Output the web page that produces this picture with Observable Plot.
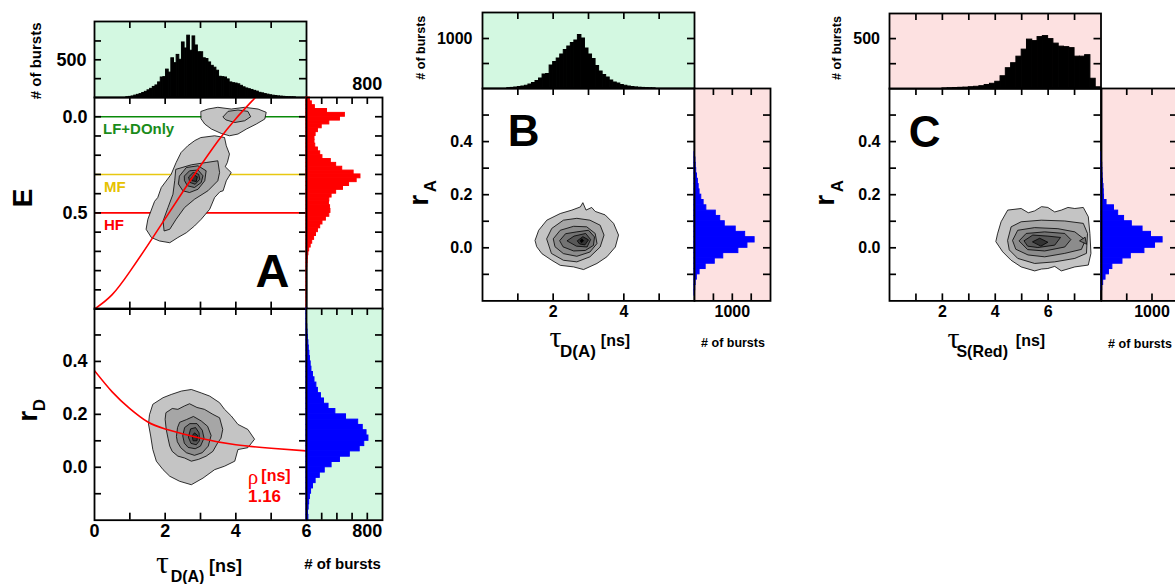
<!DOCTYPE html>
<html><head><meta charset="utf-8">
<script src="https://cdn.jsdelivr.net/npm/d3@7"></script>
<script src="https://cdn.jsdelivr.net/npm/@observablehq/plot@0.6"></script>
<style>
body{margin:0;background:#fff;}
#fig{position:relative;width:1175px;height:584px;overflow:hidden;background:#fff;}
</style></head><body><div id="fig"></div>
<script>
// ---------------- DATA ----------------
// Panel A, top histogram of tau_D(A): bins of 0.075 ns starting at 0.9 ns
const histTauA_start = 0.9, histTauA_width = 0.075;
const histTauA = [3,8,14,25,35,45,60,75,95,115,140,160,200,265,270,370,330,520,455,565,500,730,650,820,620,810,690,600,600,520,510,465,420,395,355,275,270,265,240,200,190,185,175,155,135,120,110,100,88,78,62,55,45,38,30,24,20,15,12,9,6,4,3,2];
// Panel A, right histogram of E: bins of 0.02 starting at -0.10
const histE_start = -0.10, histE_width = 0.02;
const histE = [45,70,110,270,505,440,300,200,150,120,105,105,115,150,180,210,320,390,470,620,710,660,560,480,390,330,300,295,310,315,300,255,210,180,150,125,100,75,55,35,25,18,14,10,8,6,5,4,3,3,2,2,1,1,1];
// Panel A, right histogram of r_D: bins of 0.02 starting at -0.20
const histRD_start = -0.20, histRD_width = 0.02;
const histRD = [25,20,28,35,45,60,85,120,175,240,330,440,570,700,760,815,790,740,680,520,380,290,230,190,150,130,105,85,65,55,45,38,30,25,18,14,10,6,4,2];
// Panel B, top histogram of tau_D(A): bins of 0.1 ns starting at 0.7
const histTauB_start = 0.7, histTauB_width = 0.1;
const histTauB = [6,12,20,30,40,55,80,110,150,200,280,290,460,530,600,680,770,840,910,960,1070,1000,800,680,590,450,340,270,220,160,120,100,70,55,40,30,22,16,12,8,5,3];
// Panel B, right histogram of r_A: bins of 0.02 starting at -0.18
const histRAB_start = -0.18, histRAB_width = 0.02;
const histRAB = [8,18,30,62,134,295,536,760,1160,1400,1590,1340,1090,800,680,563,313,241,179,134,110,89,65,45,32,24,10];
// Panel C, top histogram of tau_S(Red): bins of 0.2 ns starting at 2.0
const histTauC_start = 2.0, histTauC_width = 0.2;
const histTauC = [4,6,8,10,12,16,20,26,38,50,70,125,205,255,320,390,490,475,515,525,495,450,420,415,405,320,320,335,100,15];
// Panel C, right histogram of r_A: bins of 0.02 starting at -0.16
const histRAC_start = -0.16, histRAC_width = 0.02;
const histRAC = [13,33,80,147,215,415,580,850,1060,1210,980,813,600,447,330,247,100,50,45,40,30,22,18,14,10,5];

// State lines in panel A (E values)
const stateNames = ["LF+DOnly", "MF", "HF"];
const stateE = [0.0, 0.3, 0.5];

// Red theory curves
const curveE = [[0,1.0],[0.5,0.925],[1.0,0.805],[1.5,0.67],[2.0,0.53],[2.5,0.39],[3.0,0.255],[3.5,0.125],[4.0,0.01],[4.5,-0.09],[4.7,-0.13]];
const curveRD = [[0,0.365],[0.5,0.285],[1.0,0.222],[1.5,0.172],[2.0,0.145],[3.0,0.11],[4.0,0.085],[5.0,0.072],[6.0,0.062]];
const rhoLabel = ["ρ", "[ns]", "1.16"];

// Contour rings [tau, value] by level (1 = outermost)
const contoursAE = [
 {level:1, pts:[[3.02,0.108],[3.40,0.099],[3.68,0.108],[3.73,0.151],[3.82,0.194],[3.76,0.238],[3.70,0.26],[3.87,0.290],[3.73,0.333],[3.64,0.385],[3.55,0.39],[3.40,0.42],[3.26,0.481],[3.02,0.533],[2.83,0.568],[2.60,0.603],[2.36,0.628],[2.13,0.655],[1.84,0.646],[1.61,0.628],[1.46,0.585],[1.51,0.533],[1.65,0.464],[1.70,0.44],[1.79,0.42],[1.89,0.368],[2.17,0.299],[2.31,0.238],[2.45,0.186],[2.64,0.151],[2.83,0.125]]},
 {level:1, pts:[[3.02,-0.028],[3.21,-0.040],[3.49,-0.049],[3.87,-0.040],[4.25,-0.049],[4.63,-0.040],[4.86,-0.023],[4.82,0.012],[4.58,0.038],[4.30,0.064],[4.06,0.09],[3.82,0.099],[3.59,0.087],[3.31,0.064],[3.12,0.038],[3.02,0.012]]},
 {level:2, pts:[[2.31,0.273],[2.74,0.25],[3.16,0.238],[3.49,0.229],[3.54,0.29],[3.49,0.333],[3.21,0.385],[2.83,0.429],[2.55,0.472],[2.31,0.533],[2.13,0.585],[1.97,0.594],[1.94,0.542],[2.08,0.472],[2.22,0.403],[2.27,0.333]]},
 {level:2, pts:[[3.64,0.0],[3.78,-0.028],[4.06,-0.035],[4.34,-0.028],[4.42,0.0],[4.25,0.021],[3.97,0.03],[3.73,0.017]]},
 {level:3, pts:[[2.41,0.307],[2.60,0.264],[2.93,0.255],[3.16,0.281],[3.12,0.333],[2.93,0.377],[2.69,0.394],[2.50,0.385],[2.38,0.351]]},
 {level:4, pts:[[2.55,0.307],[2.69,0.281],[2.93,0.277],[3.07,0.307],[3.02,0.342],[2.83,0.368],[2.63,0.359],[2.55,0.333]]},
 {level:5, pts:[[2.67,0.312],[2.79,0.29],[2.95,0.299],[2.98,0.325],[2.85,0.351],[2.71,0.342]]},
 {level:6, pts:[[2.74,0.32],[2.81,0.302],[2.91,0.312],[2.88,0.337],[2.77,0.333]]}
];
const contoursAR = [
 {level:1, pts:[[1.56,0.2],[1.65,0.238],[1.94,0.263],[2.17,0.275],[2.46,0.288],[2.74,0.294],[3.02,0.281],[3.26,0.269],[3.54,0.244],[3.68,0.219],[3.87,0.194],[4.06,0.162],[4.34,0.143],[4.53,0.106],[4.34,0.074],[4.06,0.067],[3.97,0.023],[3.68,0.004],[3.40,-0.009],[3.07,-0.041],[2.74,-0.066],[2.41,-0.053],[2.13,-0.034],[1.94,-0.009],[1.75,0.023],[1.65,0.067],[1.59,0.118],[1.53,0.162]]},
 {level:2, pts:[[2.03,0.207],[2.2,0.222],[2.36,0.219],[2.55,0.232],[2.69,0.240],[2.9,0.226],[3.11,0.219],[3.35,0.2],[3.54,0.187],[3.63,0.143],[3.58,0.11],[3.49,0.093],[3.35,0.06],[3.16,0.042],[2.95,0.03],[2.74,0.023],[2.55,0.035],[2.36,0.042],[2.2,0.06],[2.13,0.08],[2.08,0.11],[2.03,0.143],[2.0,0.18]]},
 {level:3, pts:[[2.32,0.118],[2.35,0.15],[2.41,0.17],[2.6,0.18],[2.8,0.192],[3.02,0.175],[3.2,0.155],[3.3,0.12],[3.22,0.08],[3.05,0.055],[2.83,0.045],[2.6,0.055],[2.44,0.074],[2.35,0.095]]},
 {level:4, pts:[[2.5,0.12],[2.55,0.15],[2.7,0.165],[2.9,0.165],[3.05,0.14],[3.1,0.11],[3.0,0.08],[2.85,0.07],[2.65,0.075],[2.55,0.09]]},
 {level:5, pts:[[2.66,0.115],[2.72,0.145],[2.86,0.15],[2.96,0.13],[2.97,0.1],[2.88,0.085],[2.74,0.09]]},
 {level:6, pts:[[2.77,0.12],[2.83,0.13],[2.92,0.12],[2.9,0.1],[2.8,0.1]]}
];
const contoursB = [
 {level:1, pts:[[1.49,0.029],[1.59,0.066],[1.82,0.104],[2.2,0.129],[2.53,0.142],[2.77,0.154],[2.84,0.17],[2.93,0.142],[3.09,0.152],[3.19,0.137],[3.47,0.124],[3.71,0.092],[3.85,0.048],[3.76,0.003],[3.52,-0.034],[3.24,-0.059],[2.86,-0.082],[2.58,-0.072],[2.2,-0.066],[1.96,-0.047],[1.68,-0.022],[1.54,0.003]]},
 {level:2, pts:[[1.82,0.035],[1.96,0.073],[2.29,0.104],[2.67,0.111],[3.04,0.104],[3.33,0.085],[3.44,0.048],[3.33,0.003],[3.04,-0.034],[2.67,-0.053],[2.29,-0.047],[1.96,-0.022]]},
 {level:3, pts:[[2.01,0.035],[2.2,0.066],[2.58,0.081],[2.95,0.079],[3.19,0.054],[3.24,0.016],[3.04,-0.016],[2.67,-0.032],[2.29,-0.022],[2.06,0.003]]},
 {level:4, pts:[[2.19,0.028],[2.35,0.053],[2.67,0.06],[3.0,0.066],[3.17,0.041],[3.14,0.009],[2.91,-0.01],[2.58,-0.012],[2.29,0.003]]},
 {level:5, pts:[[2.4,0.027],[2.59,0.044],[2.92,0.054],[3.06,0.031],[2.96,0.003],[2.67,0.006]]},
 {level:6, pts:[[2.69,0.027],[2.84,0.042],[3.0,0.03],[2.9,0.011],[2.76,0.014]]},
 {level:7, pts:[[2.77,0.027],[2.81,0.034],[2.86,0.027],[2.81,0.02]]}
];
const contoursC = [
 {level:1, pts:[[4.09,0.054],[4.22,0.098],[4.47,0.142],[4.98,0.148],[5.25,0.132],[5.49,0.139],[5.75,0.155],[5.99,0.152],[6.25,0.135],[6.50,0.142],[6.75,0.152],[7.01,0.148],[7.33,0.152],[7.52,0.117],[7.58,0.054],[7.62,-0.021],[7.52,-0.065],[7.01,-0.072],[6.50,-0.087],[6.25,-0.07],[5.99,-0.078],[5.75,-0.08],[5.49,-0.087],[4.98,-0.072],[4.60,-0.047],[4.28,-0.015],[4.03,0.022]]},
 {level:2, pts:[[4.47,0.029],[4.6,0.079],[4.98,0.098],[5.74,0.104],[6.63,0.101],[7.33,0.092],[7.49,0.054],[7.45,-0.021],[7.01,-0.04],[6.25,-0.053],[5.49,-0.059],[4.85,-0.04],[4.54,-0.009]]},
 {level:3, pts:[[4.66,0.029],[4.85,0.066],[5.49,0.076],[6.37,0.072],[7.01,0.06],[7.41,0.029],[7.26,-0.006],[6.63,-0.021],[5.87,-0.034],[5.24,-0.027],[4.79,-0.006]]},
 {level:4, pts:[[4.91,0.027],[5.17,0.054],[5.87,0.06],[6.63,0.054],[6.86,0.031],[6.63,0.003],[5.87,-0.012],[5.24,-0.007]]},
 {level:4, pts:[[7.2,0.027],[7.4,0.04],[7.45,0.015]]},
 {level:5, pts:[[5.1,0.027],[5.42,0.048],[5.99,0.044],[6.47,0.039],[6.25,0.01],[5.61,0.001],[5.24,0.006]]},
 {level:6, pts:[[5.42,0.023],[5.68,0.036],[5.99,0.021],[5.74,0.007]]}
];

// Tick values
const tauTicksA = [1,2,3,4,5], tauTicksC = [1,2,3,4,5,6,7];
const tauLabelsA = [0,2,4,6], tauLabelsB = [2,4], tauLabelsC = [2,4,6];
const eTicks = [0,0.1,0.2,0.3,0.4,0.5,0.6,0.7,0.8,0.9], eLabels = [0,0.5];
const rTicks = [-0.1,0,0.1,0.2,0.3,0.4,0.5], rLabels = [0,0.2,0.4];

// ---------------- DRAWING ----------------
const FONT = '"Liberation Sans", Arial, Helvetica, sans-serif';
const SERIF = '"Liberation Serif", "DejaVu Serif", serif';
const GREEN_BG = "#d3f8e1", PINK_BG = "#fde1e1";
const GREYS = [null, "#c4c4c4", "#a6a6a6", "#8c8c8c", "#737373", "#585858", "#333333", "#000000"];
const RED = "#ff0000", BLUE = "#0000ff";
const fig = document.getElementById("fig");
const f1 = d3.format(".1f");

function bins(start, width, counts) {
  return counts.map((c, i) => ({lo: start + i * width, hi: start + (i + 1) * width, c}));
}
function contourMarks(rings) {
  return rings.slice().sort((a, b) => a.level - b.level).map(r =>
    Plot.line(r.pts, {x: d => d[0], y: d => d[1], curve: "linear-closed", fill: GREYS[r.level], stroke: "black", strokeWidth: 0.8}));
}
function vbars(data, fill) {
  return Plot.rect(data, {x1: "lo", x2: "hi", y1: 0, y2: "c", fill, stroke: fill, strokeWidth: 1, strokeLinejoin: "miter"});
}
function hbars(data, fill) {
  return Plot.rect(data, {y1: "lo", y2: "hi", x1: 0, x2: "c", fill, stroke: fill, strokeWidth: 1, strokeLinejoin: "miter"});
}

function panel(o) {
  const M = 40, T = 7;
  const W = o.w, H = o.h;
  const marks = [];
  if (o.bg) marks.push(Plot.frame({fill: o.bg, stroke: "none"}));
  marks.push(...(o.marks || []));
  const tk = {stroke: "black", strokeWidth: 1.7};
  const t = o.ticks || {};
  if (t.top) marks.push(Plot.tickX(t.top, {x: d => d, insetBottom: H - T, ...tk}));
  if (t.bottom) marks.push(Plot.tickX(t.bottom, {x: d => d, insetTop: H - T, ...tk}));
  if (t.left) marks.push(Plot.tickY(t.left, {y: d => d, insetRight: W - T, ...tk}));
  if (t.right) marks.push(Plot.tickY(t.right, {y: d => d, insetLeft: W - T, ...tk}));
  marks.push(Plot.frame({stroke: "black", strokeWidth: 1.8}));
  if (o.xlab) marks.push(Plot.text(o.xlab.v, {x: d => d, frameAnchor: o.xlab.top ? "top" : "bottom", dy: o.xlab.dy, text: o.xlab.fmt || (d => String(d)), fontSize: o.xlab.s, fontWeight: "bold", fontFamily: FONT, fill: "black"}));
  if (o.ylab) marks.push(Plot.text(o.ylab.v, {y: d => d, frameAnchor: "left", dx: o.ylab.dx, textAnchor: "end", text: o.ylab.fmt || (d => String(d)), fontSize: o.ylab.s, fontWeight: "bold", fontFamily: FONT, fill: "black"}));
  for (const l of (o.labels || [])) {
    marks.push(Plot.text([l.t], {frameAnchor: "top-left", dx: l.x - o.left, dy: l.y - o.top, text: d => d,
      fontSize: l.s, fontWeight: l.w || "bold", fontFamily: l.f || FONT, fill: l.c || "black",
      rotate: l.r || 0, textAnchor: l.a || "middle", lineAnchor: "middle"}));
  }
  const svg = Plot.plot({
    width: W + 2 * M, height: H + 2 * M, margin: M,
    x: {domain: o.xd, axis: null},
    y: {domain: o.yd, axis: null, reverse: !!o.yrev},
    style: {background: "none", overflow: "visible", position: "absolute", left: (o.left - M) + "px", top: (o.top - M) + "px", maxWidth: "none"},
    marks
  });
  fig.appendChild(svg);
}

// ---- Panel A ----
panel({left: 93.5, top: 20.7, w: 212, h: 76, xd: [0, 6], yd: [0, 1008], bg: GREEN_BG,
  marks: [vbars(bins(histTauA_start, histTauA_width, histTauA), "black")],
  ticks: {top: tauTicksA, left: [250, 500, 750], right: [250, 500, 750]},
  ylab: {v: [500], dx: -8, s: 18},
  labels: [{t: "# of bursts", x: 35, y: 60, s: 15, r: -90}]
});
const stateColors = ["#0a8a0a", "#e8c810", RED];
const stateText = ["#1a8c1a", "#e6c200", RED];
panel({left: 93.5, top: 96.7, w: 212, h: 211.6, xd: [0, 6], yd: [-0.1, 1.0], yrev: true,
  marks: [
    ...stateE.map((e, i) => Plot.ruleY([e], {stroke: stateColors[i], strokeWidth: 1.6})),
    ...contourMarks(contoursAE),
    Plot.line(curveE, {x: d => d[0], y: d => d[1], curve: "natural", stroke: RED, strokeWidth: 1.6, clip: true})
  ],
  ticks: {top: tauTicksA, bottom: tauTicksA, left: eTicks, right: eTicks},
  ylab: {v: eLabels, dx: -7, s: 18, fmt: f1},
  labels: [
    {t: "E", x: 22, y: 197, s: 28, r: -90},
    {t: stateNames[0], x: 102, y: 128.5, s: 15, a: "start", c: stateText[0]},
    {t: stateNames[1], x: 103, y: 186, s: 15, a: "start", c: stateText[1]},
    {t: stateNames[2], x: 103, y: 224, s: 15, a: "start", c: stateText[2]},
    {t: "A", x: 271.5, y: 271, s: 47}
  ]
});
panel({left: 93.5, top: 308.3, w: 212, h: 211.7, xd: [0, 6], yd: [-0.2, 0.6],
  marks: [
    ...contourMarks(contoursAR),
    Plot.line(curveRD, {x: d => d[0], y: d => d[1], curve: "natural", stroke: RED, strokeWidth: 1.6, clip: true})
  ],
  ticks: {top: tauTicksA, bottom: tauTicksA, left: rTicks, right: rTicks},
  ylab: {v: rLabels, dx: -7, s: 18, fmt: f1},
  xlab: {v: tauLabelsA, dy: 17, s: 18},
  labels: [
    {t: "r", x: 27, y: 416, s: 28, r: -90},
    {t: "D", x: 38.5, y: 405, s: 17, r: -90},
    {t: "τ", x: 161.5, y: 563, s: 32, w: "normal", f: SERIF},
    {t: "D(A)", x: 186.5, y: 576.5, s: 16},
    {t: "[ns]", x: 224.5, y: 566, s: 18},
    {t: rhoLabel[0], x: 252, y: 477, s: 21, w: "normal", f: SERIF, c: RED},
    {t: rhoLabel[1], x: 275, y: 476, s: 16, c: RED},
    {t: rhoLabel[2], x: 263.5, y: 496, s: 17, c: RED}
  ]
});
panel({left: 305.5, top: 96.7, w: 76, h: 211.6, xd: [0, 1000], yd: [-0.1, 1.0], yrev: true,
  marks: [hbars(bins(histE_start, histE_width, histE), RED)],
  ticks: {top: [200, 400, 600, 800], right: eTicks},
  xlab: {v: [800], top: true, dy: -20, s: 18}
});
panel({left: 305.5, top: 308.3, w: 76, h: 211.7, xd: [0, 1000], yd: [-0.2, 0.6], bg: GREEN_BG,
  marks: [hbars(bins(histRD_start, histRD_width, histRD), BLUE)],
  ticks: {top: [200, 400, 600, 800], bottom: [200, 400, 600, 800], right: rTicks},
  xlab: {v: [800], dy: 17, s: 18},
  labels: [{t: "# of bursts", x: 341.5, y: 564, s: 15}]
});

// ---- Panel B ----
panel({left: 482, top: 12.3, w: 212, h: 76, xd: [0, 6], yd: [0, 1520], bg: GREEN_BG,
  marks: [vbars(bins(histTauB_start, histTauB_width, histTauB), "black")],
  ticks: {top: tauTicksA, left: [500, 1000], right: [500, 1000]},
  ylab: {v: [1000], dx: -10, s: 16},
  labels: [{t: "# of bursts", x: 420, y: 47.5, s: 12.5, r: -90}]
});
panel({left: 482, top: 88.3, w: 212, h: 212.4, xd: [0, 6], yd: [-0.2, 0.6],
  marks: [...contourMarks(contoursB)],
  ticks: {top: tauTicksA, bottom: tauTicksA, left: rTicks, right: rTicks},
  ylab: {v: rLabels, dx: -10, s: 16, fmt: f1},
  xlab: {v: tauLabelsB, dy: 16.5, s: 16},
  labels: [
    {t: "r", x: 418.5, y: 200, s: 28, r: -90},
    {t: "A", x: 430.5, y: 186, s: 17, r: -90},
    {t: "B", x: 523, y: 131.5, s: 44},
    {t: "τ", x: 555, y: 337, s: 30, w: "normal", f: SERIF},
    {t: "D(A)", x: 577.5, y: 351, s: 17},
    {t: "[ns]", x: 615, y: 341, s: 16}
  ]
});
panel({left: 694, top: 88.3, w: 76, h: 212.4, xd: [0, 2010], yd: [-0.2, 0.6], bg: PINK_BG,
  marks: [hbars(bins(histRAB_start, histRAB_width, histRAB), BLUE)],
  ticks: {top: [500, 1000, 1500], bottom: [500, 1000, 1500], right: rTicks},
  xlab: {v: [1000], dy: 16.5, s: 16},
  labels: [{t: "# of bursts", x: 732.5, y: 342.5, s: 12.5}]
});

// ---- Panel C ----
panel({left: 889, top: 13, w: 211.5, h: 75.3, xd: [0, 8], yd: [0, 750], bg: PINK_BG,
  marks: [vbars(bins(histTauC_start, histTauC_width, histTauC), "black")],
  ticks: {top: tauTicksC, left: [250, 500], right: [250, 500]},
  ylab: {v: [500], dx: -9.5, s: 16},
  labels: [{t: "# of bursts", x: 836.7, y: 47.5, s: 12.5, r: -90}]
});
panel({left: 889, top: 88.3, w: 211.5, h: 212.4, xd: [0, 8], yd: [-0.2, 0.6],
  marks: [...contourMarks(contoursC)],
  ticks: {top: tauTicksC, bottom: tauTicksC, left: rTicks, right: rTicks},
  ylab: {v: rLabels, dx: -9, s: 16, fmt: f1},
  xlab: {v: tauLabelsC, dy: 16.5, s: 16},
  labels: [
    {t: "r", x: 825, y: 200, s: 28, r: -90},
    {t: "A", x: 837, y: 186, s: 17, r: -90},
    {t: "C", x: 924, y: 132.5, s: 44},
    {t: "τ", x: 953, y: 338, s: 30, w: "normal", f: SERIF},
    {t: "S(Red)", x: 981.7, y: 352, s: 16},
    {t: "[ns]", x: 1030, y: 341, s: 16}
  ]
});
panel({left: 1100.5, top: 88.3, w: 76, h: 212.4, xd: [0, 1505], yd: [-0.2, 0.6], bg: PINK_BG,
  marks: [hbars(bins(histRAC_start, histRAC_width, histRAC), BLUE)],
  ticks: {top: [500, 1000], bottom: [500, 1000], right: rTicks},
  xlab: {v: [1000], dy: 16.5, s: 16},
  labels: [{t: "# of bursts", x: 1139, y: 344, s: 12.5}]
});
</script></body></html>
